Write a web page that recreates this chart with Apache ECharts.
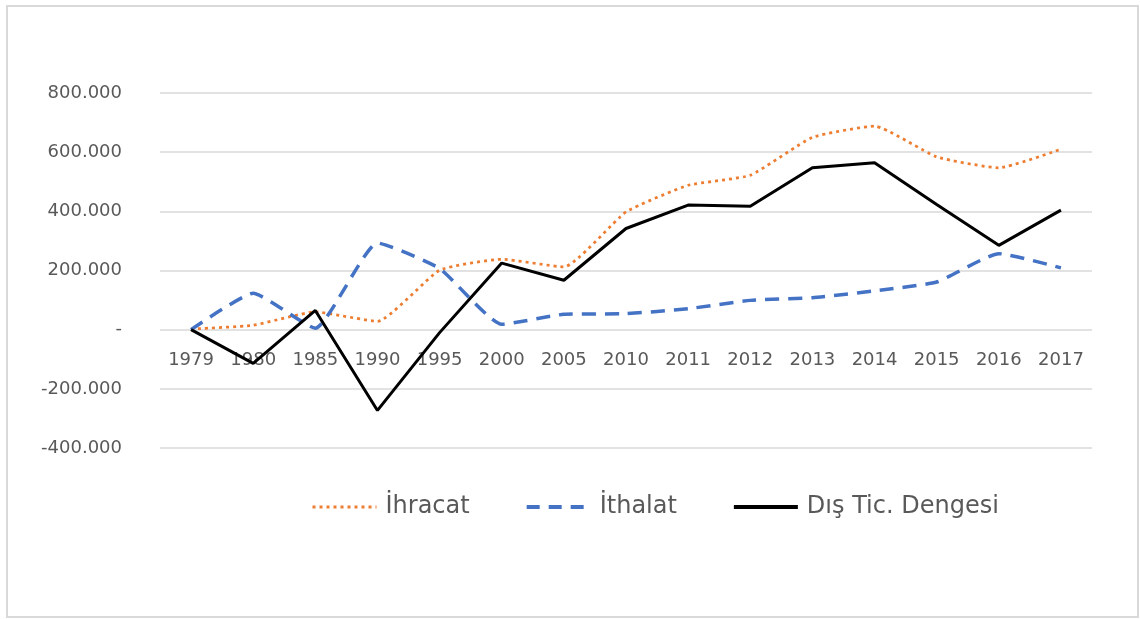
<!DOCTYPE html>
<html>
  <head>
    <meta charset="utf-8" />
    <title>Dış Ticaret</title>
    <script src="https://cdn.jsdelivr.net/npm/echarts@6/dist/echarts.min.js"></script>
    <style>
      html, body { margin: 0; padding: 0; background: #fff; }
    </style>
  </head>
  <body>
    <div id="main" style="width: 1140px;height:619px;"></div>

    <script type="text/javascript">
      var years = ['1979', '1980', '1985', '1990', '1995', '2000', '2005', '2010', '2011', '2012', '2013', '2014', '2015', '2016', '2017'];
      // values in thousands
      var ihracat = [2, 15, 60, 28, 201, 238, 212, 398, 488, 522, 650, 688, 584, 547, 610];
      var ithalat = [0, 123, 5, 293, 207, 18, 52, 54, 71, 99, 108, 131, 161, 257, 209];
      var denge = [0, -114, 65, -273, -10, 225, 167, 342, 421, 417, 547, 564, 423, 285, 404];
      var yTicks = { min: -400, max: 800, step: 200 };

      var font = 'DejaVu Sans';
      var chart = echarts.init(document.getElementById('main'));

      var option = {
        animation: false,
        backgroundColor: '#fff',
        textStyle: { fontFamily: font },
        graphic: [
          {
            type: 'rect',
            shape: { x: 7, y: 6, width: 1131, height: 611 },
            style: { fill: 'none', stroke: '#d9d9d9', lineWidth: 2 },
            silent: true
          }
        ],
        grid: {
          left: 160,
          right: 48,
          top: 93,
          bottom: 171
        },
        legend: {
          left: 306,
          top: 490,
          itemWidth: 64,
          itemHeight: 14,
          itemGap: 55,
          itemStyle: { opacity: 0 },
          textStyle: {
            fontFamily: font,
            fontSize: 24,
            color: '#595959',
            padding: [0, 0, 0, 4]
          },
          data: [
            { name: 'İhracat', lineStyle: { width: 3, type: [3, 4] } },
            { name: 'İthalat', lineStyle: { width: 4, type: [13, 9] } },
            { name: 'Dış Tic. Dengesi', lineStyle: { width: 4 } }
          ]
        },
        xAxis: {
          type: 'category',
          data: years,
          boundaryGap: true,
          position: 'bottom',
          // the labels sit under the zero line, not under the grid
          offset: -119,
          axisLine: { show: false, onZero: false },
          axisTick: { show: false },
          axisLabel: {
            margin: 22,
            fontFamily: font,
            fontSize: 18,
            color: '#595959',
            interval: 0
          },
          splitLine: { show: false }
        },
        yAxis: {
          type: 'value',
          min: yTicks.min,
          max: yTicks.max,
          interval: yTicks.step,
          axisLine: { show: false },
          axisTick: { show: false },
          axisLabel: {
            margin: 38,
            fontFamily: font,
            fontSize: 18,
            color: '#595959',
            formatter: function (v) {
              return v === 0 ? '-' : v + '.000';
            }
          },
          splitLine: { lineStyle: { color: '#d9d9d9', width: 1.5 } }
        },
        series: [
          {
            name: 'İhracat',
            type: 'line',
            data: ihracat,
            symbol: 'none',
            smooth: 0.15,
            lineStyle: { color: '#ED7D31', width: 2.75, type: [3, 4], cap: 'butt' },
            itemStyle: { color: '#ED7D31' },
            z: 2
          },
          {
            name: 'İthalat',
            type: 'line',
            data: ithalat,
            symbol: 'none',
            smooth: 0.15,
            lineStyle: { color: '#4472C4', width: 3.5, type: [14, 9], cap: 'butt' },
            itemStyle: { color: '#4472C4' },
            z: 3
          },
          {
            name: 'Dış Tic. Dengesi',
            type: 'line',
            data: denge,
            symbol: 'none',
            lineStyle: { color: '#000000', width: 3 },
            itemStyle: { color: '#000000' },
            z: 4
          }
        ]
      };

      chart.setOption(option);
    </script>
  </body>
</html>
